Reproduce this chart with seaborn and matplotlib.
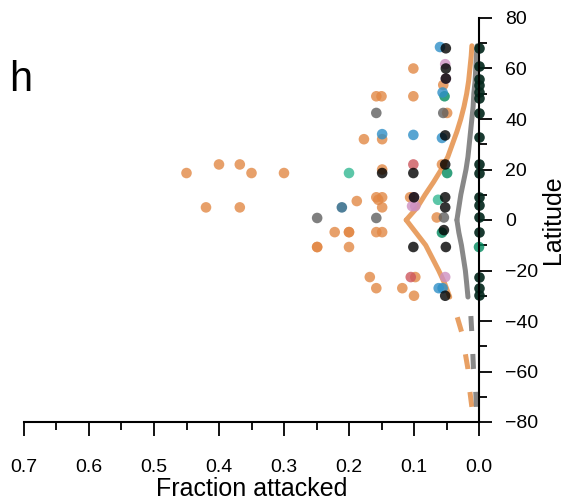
import numpy as np
import pandas as pd
import matplotlib
matplotlib.use("Agg")
import matplotlib.pyplot as plt
import seaborn as sns
from matplotlib.ticker import MultipleLocator, FuncFormatter

sns.set_style("ticks")
plt.rcParams["font.family"] = ["Liberation Sans", "DejaVu Sans"]
plt.rcParams["text.color"] = "black"
plt.rcParams["axes.labelcolor"] = "black"

# ---- species-level observations: fraction attacked vs latitude, by clade ----
orange_frac = [0.055, 0.049, 0.057, 0.065, 0.101, 0.101, 0.106, 0.098, 0.118, 0.100,
               0.158, 0.150, 0.177, 0.149, 0.149, 0.188, 0.158, 0.149, 0.155, 0.149,
               0.158, 0.149, 0.168, 0.158, 0.200, 0.200, 0.222, 0.200, 0.249, 0.249,
               0.300, 0.350, 0.368, 0.400, 0.450, 0.420, 0.368]
orange_lat = [53.5, 42.4, 22.0, 1.0, 60.0, 49.0, 9.0, -22.6, -27.0, -30.0,
              49.0, 49.0, 32.0, 32.0, 20.0, 7.5, 9.0, 9.0, 8.0, 5.0,
              -4.8, -4.8, -22.6, -27.0, -4.8, -4.8, -4.8, -10.7, -10.7, -10.7,
              18.6, 18.6, 22.0, 22.0, 18.6, 5.0, 5.0]

gray_frac = [0.055, 0.054, 0.158, 0.158, 0.249]
gray_lat = [42.4, 1.0, 42.4, 0.8, 0.8]

lightgreen_frac = [0.063, 0.200]
lightgreen_lat = [8.0, 18.6]

green_frac = [0.0, 0.053, 0.049, 0.057]
green_lat = [-10.7, 49.0, 18.6, -5.0]

blue_frac = [0.060, 0.056, 0.057, 0.062, 0.056, 0.101, 0.149]
blue_lat = [68.5, 50.5, 32.5, -27.0, -27.0, 33.7, 34.0]

steel_frac = [0.211]
steel_lat = [5.0]

pink_frac = [0.052, 0.051, 0.103, 0.098, 0.100, 0.052]
pink_lat = [61.7, 56.0, 5.5, 5.5, 9.0, -22.6]

rose_frac = [0.101, 0.105]
rose_lat = [22.0, -22.6]

black_frac = [0.051, 0.051, 0.051, 0.052, 0.052, 0.052, 0.052,
              0.054, 0.051, 0.052, 0.101, 0.101, 0.149, 0.100]
black_lat = [68.0, 60.0, 56.0, 33.5, 22.0, 9.0, 5.0,
             -4.0, -10.7, -30.0, 18.6, -10.7, 18.6, 9.0]

# species never attacked (fraction 0)
unattacked_lat = [68, 61, 56, 53.5, 50.5, 48.5, 42.5, 33, 22, 18.6, 9, 6, 1.2, -4.8,
                  -22.6, -27, -29.7]

# ---- fitted trends (fraction attacked by latitude) ----
fit_n_lat = [0, 5, 10, 15, 20, 25, 30, 35, 40, 45, 50, 55, 60, 65, 69]
fit_a_north = [0.112, 0.095, 0.083, 0.070, 0.058, 0.048, 0.041, 0.034, 0.028,
               0.023, 0.019, 0.016, 0.014, 0.012, 0.011]
fit_b_north = [0.034, 0.031, 0.028, 0.024, 0.020, 0.017, 0.015, 0.013, 0.011,
               0.009, 0.008, 0.006, 0.005, 0.004, 0.003]

fit_s_lat = [0, -5, -10, -15, -20, -25, -30.5]
fit_a_south = [0.112, 0.097, 0.082, 0.072, 0.062, 0.053, 0.045]
fit_b_south = [0.034, 0.031, 0.027, 0.024, 0.021, 0.019, 0.017]

# extrapolation beyond the southern data range
ext_lat = [-74, -68, -59, -53, -45, -38, -30.5]
ext_a = [0.011, 0.014, 0.017, 0.021, 0.026, 0.034, 0.045]
ext_b = [0.004, 0.005, 0.0085, 0.0095, 0.011, 0.0125, 0.017]

groups = {
    "orange": (orange_frac, orange_lat, "#e28845"),
    "gray": (gray_frac, gray_lat, "#5f5f5f"),
    "lightgreen": (lightgreen_frac, lightgreen_lat, "#33b892"),
    "green": (green_frac, green_lat, "#008a5e"),
    "blue": (blue_frac, blue_lat, "#2e8fc7"),
    "steel": (steel_frac, steel_lat, "#235f80"),
    "pink": (pink_frac, pink_lat, "#cd8fc1"),
    "rose": (rose_frac, rose_lat, "#cd565d"),
    "black": (black_frac, black_lat, "#000000"),
}

df = pd.concat(
    [pd.DataFrame({"frac": f, "lat": l, "clade": k}) for k, (f, l, _) in groups.items()],
    ignore_index=True,
)
palette = {k: c for k, (_, _, c) in groups.items()}
zero_df = pd.DataFrame({"frac": [0.0] * len(unattacked_lat), "lat": unattacked_lat})

fig = plt.figure(figsize=(5.70, 4.99), dpi=100)
ax = fig.add_axes([24 / 570, 1 - 422 / 499, (479 - 24) / 570, (422 - 18) / 499])

LW = 3.6
ORANGE_LINE = "#e8a064"
GRAY_LINE = "#888888"

sns.lineplot(x=fit_a_north, y=fit_n_lat, sort=False, estimator=None, color=ORANGE_LINE,
             lw=LW, ax=ax, zorder=1.5)
sns.lineplot(x=fit_a_south, y=fit_s_lat, sort=False, estimator=None, color=ORANGE_LINE,
             lw=LW, ax=ax, zorder=1.5)
sns.lineplot(x=fit_b_north, y=fit_n_lat, sort=False, estimator=None, color=GRAY_LINE,
             lw=LW, ax=ax, zorder=1.5)
sns.lineplot(x=fit_b_south, y=fit_s_lat, sort=False, estimator=None, color=GRAY_LINE,
             lw=LW, ax=ax, zorder=1.5)
sns.lineplot(x=ext_a, y=ext_lat, sort=False, estimator=None, color=ORANGE_LINE,
             lw=LW, ax=ax, zorder=1.5, linestyle=(0, (3.0, 4.6)))
sns.lineplot(x=ext_b, y=ext_lat, sort=False, estimator=None, color=GRAY_LINE,
             lw=LW, ax=ax, zorder=1.5, linestyle=(0, (3.0, 4.6)))

sns.scatterplot(data=df, x="frac", y="lat", hue="clade", palette=palette, s=58,
                alpha=0.8, linewidth=0, legend=False, ax=ax, clip_on=False, zorder=2)
sns.scatterplot(data=zero_df, x="frac", y="lat", color="#05291e", s=58,
                alpha=0.92, linewidth=0, legend=False, ax=ax, clip_on=False, zorder=2)

ax.set_xlim(0.7, 0.0)
ax.set_ylim(-80, 80)

for side in ("left", "top"):
    ax.spines[side].set_visible(False)
for side in ("right", "bottom"):
    ax.spines[side].set_linewidth(1.5)
    ax.spines[side].set_color("black")

ax.yaxis.tick_right()
ax.yaxis.set_label_position("right")

ax.xaxis.set_major_locator(MultipleLocator(0.1))
ax.xaxis.set_minor_locator(MultipleLocator(0.05))
ax.yaxis.set_major_locator(MultipleLocator(20))
ax.yaxis.set_minor_locator(MultipleLocator(10))
ax.xaxis.set_major_formatter(FuncFormatter(lambda v, p: f"{abs(v):.1f}"))
ax.yaxis.set_major_formatter(FuncFormatter(lambda v, p: f"{int(round(v))}".replace("-", "\u2212")))

ax.tick_params(axis="x", which="major", direction="out", length=10, width=1.3,
               pad=17, labelsize=14, color="black", labelcolor="black")
ax.tick_params(axis="x", which="minor", direction="out", length=6, width=1.3, color="black")
ax.tick_params(axis="y", which="major", direction="out", length=9, width=1.3,
               pad=10, labelsize=14, color="black", labelcolor="black")
ax.tick_params(axis="y", which="minor", direction="out", length=5.5, width=1.3, color="black")

ax.set_xlabel("Fraction attacked", fontsize=18, labelpad=0)
ax.set_ylabel("Latitude", fontsize=18, labelpad=2, rotation=90)
ax.grid(False)

fig.text(0.016, 0.817, "h", fontsize=30, color="black")

fig.savefig("out.png", dpi=100)
